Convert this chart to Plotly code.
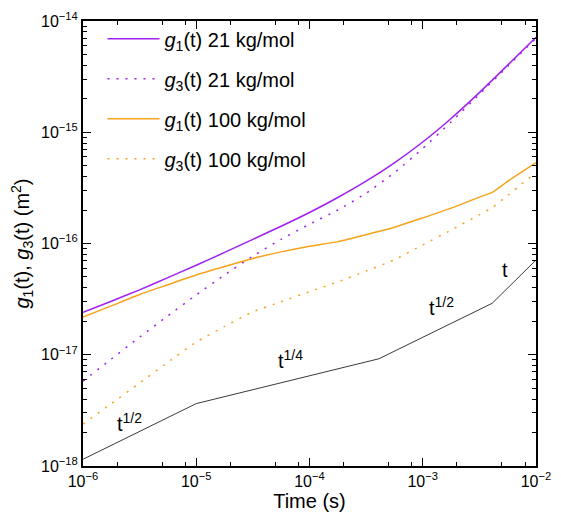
import math
import plotly.graph_objects as go

# Time values (s) read at quarter decades
t_grid = [1e-6, 1.78e-6, 3.16e-6, 5.62e-6, 1e-5, 1.78e-5, 3.16e-5, 5.62e-5, 1e-4,
          1.78e-4, 3.16e-4, 5.62e-4, 1e-3, 1.78e-3, 3.16e-3, 5.62e-3, 1e-2]

g1_21 = [2.41e-17, 3.03e-17, 3.83e-17, 4.94e-17, 6.38e-17, 8.31e-17, 1.09e-16, 1.43e-16, 1.90e-16,
         2.59e-16, 3.63e-16, 5.31e-16, 8.17e-16, 1.33e-15, 2.27e-15, 4.01e-15, 7.14e-15]

g3_21 = [5.79e-18, 9.16e-18, 1.44e-17, 2.24e-17, 3.45e-17, 5.22e-17, 7.69e-17, 1.09e-16, 1.49e-16,
         2.00e-16, 2.83e-16, 4.33e-16, 7.16e-16, 1.24e-15, 2.19e-15, 3.91e-15, 7.01e-15]

t_100 = [1e-6, 1.78e-6, 3.16e-6, 5.62e-6, 1e-5, 1.78e-5, 3.16e-5, 5.62e-5, 1e-4,
         1.78e-4, 3.16e-4, 5.62e-4, 1e-3, 1.78e-3, 3.16e-3, 4.1e-3, 5.62e-3, 1e-2]
g1_100 = [2.18e-17, 2.75e-17, 3.48e-17, 4.26e-17, 5.21e-17, 6.21e-17, 7.34e-17, 8.41e-17, 9.44e-17,
          1.04e-16, 1.2e-16, 1.40e-16, 1.70e-16, 2.08e-16, 2.61e-16, 2.88e-16, 3.62e-16, 5.33e-16]
g3_100 = [2.38e-18, 3.64e-18, 5.58e-18, 8.57e-18, 1.30e-17, 1.80e-17, 2.43e-17, 3.0e-17, 3.69e-17,
          4.52e-17, 5.66e-17, 7.14e-17, 9.73e-17, 1.32e-16, 1.81e-16, 2.10e-16, 2.70e-16, 4.35e-16]

t_ref = [1e-6, 1e-5, 4.1e-4, 4.1e-3, 1e-2]
g_ref = [1.15e-18, 3.64e-18, 9.2e-18, 2.9e-17, 7.1e-17]

slope_labels = ["t<sup>1/2</sup>", "t<sup>1/4</sup>", "t<sup>1/2</sup>", "t"]
slope_t = [2.55e-6, 6.8e-5, 1.46e-3, 5.3e-3]
slope_g = [2.45e-18, 9.0e-18, 2.7e-17, 5.8e-17]

names = ["<i>g</i><sub>1</sub>(t) 21 kg/mol", "<i>g</i><sub>3</sub>(t) 21 kg/mol",
         "<i>g</i><sub>1</sub>(t) 100 kg/mol", "<i>g</i><sub>3</sub>(t) 100 kg/mol"]

x_ticks = [1e-6, 1e-5, 1e-4, 1e-3, 1e-2]
x_ticktext = ["10<sup>\u22126</sup>", "10<sup>\u22125</sup>", "10<sup>\u22124</sup>",
              "10<sup>\u22123</sup>", "10<sup>\u22122</sup>"]
y_ticks = [1e-18, 1e-17, 1e-16, 1e-15, 1e-14]
y_ticktext = ["10<sup>\u221218</sup>", "10<sup>\u221217</sup>", "10<sup>\u221216</sup>",
              "10<sup>\u221215</sup>", "10<sup>\u221214</sup>"]

PURPLE = "#a020f0"
ORANGE = "#f5a31a"

fig = go.Figure()
series = [(t_grid, g1_21, PURPLE, "solid"), (t_grid, g3_21, PURPLE, "2px,7px"),
          (t_100, g1_100, ORANGE, "solid"), (t_100, g3_100, ORANGE, "2px,7px")]
for i, (t, g, c, d) in enumerate(series):
    fig.add_trace(go.Scatter(x=t, y=g, mode="lines", name=names[i], legendgroup=str(i),
                             line=dict(color=c, width=1.5, dash=d, shape="spline", smoothing=0.5)))

fig.add_trace(go.Scatter(x=t_ref, y=g_ref, mode="lines", showlegend=False,
                         line=dict(color="#3a3a3a", width=1)))

for lab, xt, yg in zip(slope_labels, slope_t, slope_g):
    fig.add_annotation(x=math.log10(xt), y=math.log10(yg), text=lab, showarrow=False,
                       font=dict(size=20, color="black"))

minor_x = [d * m for d in x_ticks[:-1] for m in (2, 5, 8)]
minor_y = [d * m for d in y_ticks[:-1] for m in (2, 3, 4, 5, 6, 7, 8, 9)]

axis_common = dict(type="log", showline=True, linewidth=2, linecolor="black", mirror="ticks",
                   ticks="inside", ticklen=8, tickwidth=1, tickcolor="black",
                   showgrid=False, zeroline=False, tickmode="array",
                   tickfont=dict(size=16, color="black"))

fig.update_xaxes(range=[-6, -2], tickvals=x_ticks, ticktext=x_ticktext,
                 title=dict(text="Time (s)", font=dict(size=20), standoff=2),
                 minor=dict(ticks="inside", ticklen=4, tickcolor="black", tickvals=minor_x),
                 **axis_common)
fig.update_yaxes(range=[-18, -14], tickvals=y_ticks, ticktext=y_ticktext,
                 title=dict(text="<i>g</i><sub>1</sub>(t), <i>g</i><sub>3</sub>(t) (m<sup>2</sup>)",
                            font=dict(size=20), standoff=6),
                 minor=dict(ticks="inside", ticklen=4, tickcolor="black", tickvals=minor_y),
                 **axis_common)

fig.update_layout(
    width=561, height=517,
    margin=dict(l=83, r=17, t=10, b=51),
    paper_bgcolor="white", plot_bgcolor="white",
    font=dict(family="Liberation Sans, Arial, sans-serif", color="black"),
    legend=dict(x=0.043, y=1.004, xanchor="left", yanchor="top", bgcolor="rgba(0,0,0,0)",
                font=dict(size=20), itemwidth=52, tracegroupgap=11, traceorder="grouped"),
)

fig.write_html("out.html")
